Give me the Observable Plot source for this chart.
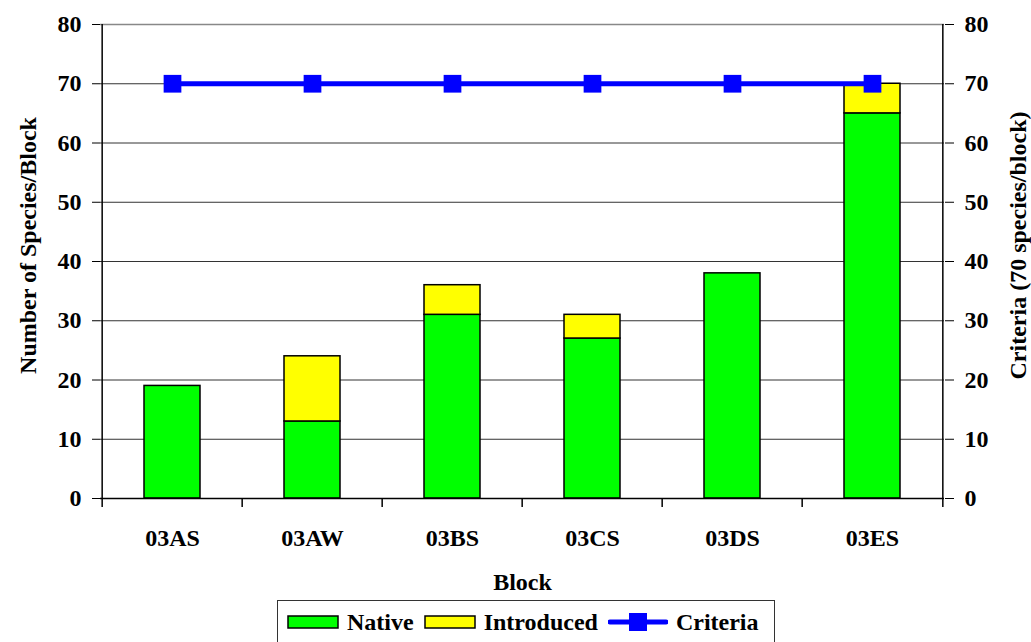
<!DOCTYPE html>
<html><head><meta charset="utf-8">
<script src="https://cdn.jsdelivr.net/npm/d3@7"></script>
<script src="https://cdn.jsdelivr.net/npm/@observablehq/plot@0.6"></script>
<style>
body{margin:0;background:#fff;font-family:"Liberation Serif","Times New Roman",serif;font-weight:bold;}
#chart svg{display:block;}
#chart svg, #chart svg text{font-family:"Liberation Serif","Times New Roman",serif !important;font-weight:bold;}
#legend{position:absolute;left:277px;top:600px;width:498px;height:44px;border:1px solid #333;box-sizing:border-box;display:flex;align-items:center;font-size:24px;color:#000;}
#legend .item{display:flex;align-items:center;}
#legend svg{display:block;}
</style></head><body>
<div id="chart"></div>
<div id="legend"></div>
<script>
const blocks = ["03AS","03AW","03BS","03CS","03DS","03ES"];
const nativeCounts = [19,13,31,27,38,65];
const introducedCounts = [0,11,5,4,0,5];
const criteria = [70,70,70,70,70,70];
const yTicks = [0,10,20,30,40,50,60,70,80];
const seriesNames = ["Native","Introduced"];
const seriesColors = ["#00FF00","#FFFF00"];
const lineColor = "#0000FF";

const W = 1031, H = 598, mL = 100, mR = 87, mT = 24, mB = 100;
const halfStep = (W - mL - mR) / blocks.length / 2;

const table = [];
blocks.forEach((b, i) => {
  table.push({block: b, series: "Native", value: nativeCounts[i]});
  if (introducedCounts[i] > 0) table.push({block: b, series: "Introduced", value: introducedCounts[i]});
});
const crit = blocks.map((b, i) => ({block: b, value: criteria[i]}));

const chart = Plot.plot({
  width: W, height: H,
  marginLeft: mL, marginRight: mR, marginTop: mT, marginBottom: mB,
  style: {fontFamily: "'Liberation Serif', 'Times New Roman', serif", fontWeight: "bold", fontSize: "24px", color: "#000", background: "#fff"},
  x: {domain: blocks, paddingInner: 0.6, paddingOuter: 0.3, axis: null},
  y: {domain: [0, 80], axis: null},
  color: {domain: seriesNames, range: seriesColors},
  marks: [
    Plot.ruleY(yTicks.filter(t => t > 0 && t < 80), {stroke: "#333", strokeWidth: 1}),
    Plot.ruleY([80], {stroke: "#888", strokeWidth: 1.5}),
    Plot.barY(table, Plot.stackY({x: "block", y: "value", fill: "series", order: seriesNames, stroke: "#000", strokeWidth: 1.5})),
    Plot.line(crit, {x: "block", y: "value", stroke: lineColor, strokeWidth: 5}),
    Plot.dot(crit, {x: "block", y: "value", symbol: "square", r: 10, fill: lineColor}),
    Plot.axisY({anchor: "left", ticks: yTicks, tickSize: 8, tickPadding: 11, fontSize: 24, fontWeight: "bold", label: null, stroke: "#000"}),
    Plot.axisY({anchor: "right", ticks: yTicks, tickSize: 9, tickPadding: 11, fontSize: 24, fontWeight: "bold", label: null, stroke: "#000"}),
    Plot.ruleX([0], {x: () => blocks[0], dx: -halfStep, y1: 0, y2: 80, stroke: "#000", strokeWidth: 1.5}),
    Plot.ruleX([0], {x: () => blocks[blocks.length - 1], dx: halfStep, y1: 0, y2: 80, stroke: "#000", strokeWidth: 1.5}),
    Plot.ruleY([0], {stroke: "#000", strokeWidth: 1.5}),
    Plot.ruleX(blocks, {x: d => d, dx: -halfStep, y1: 0, y2: 0, insetBottom: -9, stroke: "#000", strokeWidth: 1.5}),
    Plot.ruleX([blocks[blocks.length - 1]], {x: d => d, dx: halfStep, y1: 0, y2: 0, insetBottom: -9, stroke: "#000", strokeWidth: 1.5}),
    Plot.axisX({ticks: blocks, tickSize: 0, tickPadding: 30, fontSize: 24, fontWeight: "bold", label: null}),
    Plot.text(["Block"], {frameAnchor: "bottom", dy: 91, fontSize: 24, fontWeight: "bold", fill: "#000"}),
    Plot.text(["Number of Species/Block"], {frameAnchor: "left", textAnchor: "middle", dx: -72, dy: -16, rotate: -90, fontSize: 24, fontWeight: "bold", fill: "#000"}),
    Plot.text(["Criteria (70 species/block)"], {frameAnchor: "right", textAnchor: "middle", dx: 74, dy: -16, rotate: -90, fontSize: 24, fontWeight: "bold", fill: "#000"})
  ]
});
document.getElementById("chart").appendChild(chart);

// Legend
const legend = document.getElementById("legend");
function addItem(html, label, ml) {
  const d = document.createElement("div");
  d.className = "item";
  d.style.marginLeft = ml + "px";
  d.innerHTML = html + `<span style="margin-left:8px">${label}</span>`;
  legend.appendChild(d);
}
seriesNames.forEach((s, i) => {
  addItem(`<svg width="52" height="14"><rect x="1" y="1" width="50" height="12" fill="${seriesColors[i]}" stroke="#000" stroke-width="1.5"/></svg>`, s, i === 0 ? 9 : 10);
});
addItem(`<svg width="60" height="20"><line x1="2" y1="10" x2="58" y2="10" stroke="${lineColor}" stroke-width="5" stroke-linecap="round"/><rect x="21" y="1" width="18" height="18" fill="${lineColor}"/></svg>`, "Criteria", 10);
</script>
</body></html>
